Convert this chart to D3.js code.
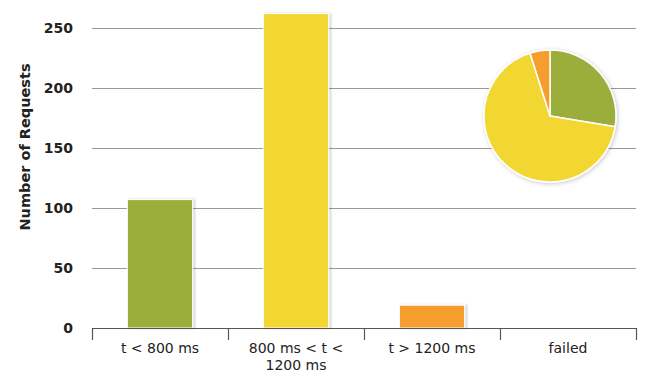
<!DOCTYPE html>
<html>
<head>
<meta charset="utf-8">
<script src="https://cdn.jsdelivr.net/npm/d3@7"></script>
<style>
  html, body { margin: 0; padding: 0; background: #fff; }
  svg { display: block; }
  text { font-family: "DejaVu Sans", Verdana, sans-serif; fill: #222; }
</style>
</head>
<body>
<svg id="chart" width="645" height="372"></svg>
<script>
// Response-time buckets and request counts
const categories = ["t < 800 ms", "800 ms < t < 1200 ms", "t > 1200 ms", "failed"];
const labelLines = [["t < 800 ms"], ["800 ms < t <", "1200 ms"], ["t > 1200 ms"], ["failed"]];
const requests = [107, 262, 19, 0];
const colors = ["#9bae3b", "#f2d632", "#f59e2f", "#d9534f"];
const yTicks = [0, 50, 100, 150, 200, 250];

const svg = d3.select("#chart");
const margin = { left: 92, right: 9, top: 13, bottom: 44 };
const width = 645, height = 372;

const x = d3.scaleBand()
  .domain(categories)
  .range([margin.left, width - margin.right])
  .paddingInner(0.52)
  .paddingOuter(0.26);

const y = d3.scaleLinear()
  .domain([0, 250])
  .range([328, 28]);

const defs = svg.append("defs");
const barShadow = defs.append("filter").attr("id", "barShadow")
  .attr("x", "-20%").attr("y", "-20%").attr("width", "140%").attr("height", "140%");
barShadow.append("feDropShadow").attr("dx", 2).attr("dy", 0).attr("stdDeviation", 1)
  .attr("flood-color", "#000").attr("flood-opacity", 0.18);
const pieShadow = defs.append("filter").attr("id", "pieShadow")
  .attr("x", "-20%").attr("y", "-20%").attr("width", "140%").attr("height", "140%");
pieShadow.append("feDropShadow").attr("dx", 1).attr("dy", 1).attr("stdDeviation", 2)
  .attr("flood-color", "#000").attr("flood-opacity", 0.22);

// Horizontal grid
svg.append("g")
  .selectAll("line")
  .data(yTicks.filter(d => d > 0))
  .join("line")
  .attr("x1", margin.left).attr("x2", width - margin.right)
  .attr("y1", d => Math.round(y(d)) + 0.5).attr("y2", d => Math.round(y(d)) + 0.5)
  .attr("stroke", "#9a9a9a").attr("stroke-width", 1);

// Y tick labels
svg.append("g")
  .selectAll("text")
  .data(yTicks)
  .join("text")
  .attr("x", 73)
  .attr("y", d => y(d))
  .attr("dy", "0.36em")
  .attr("text-anchor", "end")
  .attr("font-size", 14)
  .attr("font-weight", "bold")
  .text(d => d);

// Y axis title
svg.append("text")
  .attr("transform", `translate(30,${147}) rotate(-90)`)
  .attr("text-anchor", "middle")
  .attr("font-size", 14.5)
  .attr("font-weight", "bold")
  .text("Number of Requests");

// Bars
svg.append("g")
  .selectAll("rect")
  .data(requests.map((v, i) => ({ c: categories[i], v, i })).filter(d => d.v > 0))
  .join("rect")
  .attr("x", d => x(d.c))
  .attr("y", d => y(d.v))
  .attr("width", x.bandwidth())
  .attr("height", d => y(0) - y(d.v))
  .attr("fill", d => colors[d.i])
  .attr("stroke", "#fff")
  .attr("stroke-width", 1)
  .attr("filter", "url(#barShadow)");

// X axis with category dividers
const step = (width - margin.right - margin.left) / categories.length;
const axisG = svg.append("g");
axisG.append("line")
  .attr("x1", margin.left).attr("x2", width - margin.right)
  .attr("y1", 328.5).attr("y2", 328.5)
  .attr("stroke", "#555").attr("stroke-width", 1.2);
axisG.selectAll("line.tick")
  .data(d3.range(categories.length + 1))
  .join("line")
  .attr("class", "tick")
  .attr("x1", i => margin.left + i * step + 0.5).attr("x2", i => margin.left + i * step + 0.5)
  .attr("y1", 328).attr("y2", 340)
  .attr("stroke", "#555").attr("stroke-width", 1.2);

const xl = axisG.selectAll("text.xl")
  .data(categories)
  .join("text")
  .attr("class", "xl")
  .attr("text-anchor", "middle")
  .attr("font-size", 14)
  .attr("x", d => x(d) + x.bandwidth() / 2)
  .attr("y", 353);
xl.selectAll("tspan")
  .data((d, i) => labelLines[i])
  .join("tspan")
  .attr("x", function () { return d3.select(this.parentNode).attr("x"); })
  .attr("dy", (d, j) => j === 0 ? 0 : 17)
  .text(d => d);

// Inset pie of the same counts
const pie = d3.pie().sort(null).value(d => d.v);
const arc = d3.arc().innerRadius(0).outerRadius(66);
const pieData = pie(requests.map((v, i) => ({ v, i })));
svg.append("g")
  .attr("transform", "translate(550,116)")
  .attr("filter", "url(#pieShadow)")
  .selectAll("path")
  .data(pieData.filter(d => d.data.v > 0))
  .join("path")
  .attr("d", arc)
  .attr("fill", d => colors[d.data.i])
  .attr("stroke", "#fff")
  .attr("stroke-width", 1.5)
  .attr("stroke-linejoin", "round");
</script>
</body>
</html>
